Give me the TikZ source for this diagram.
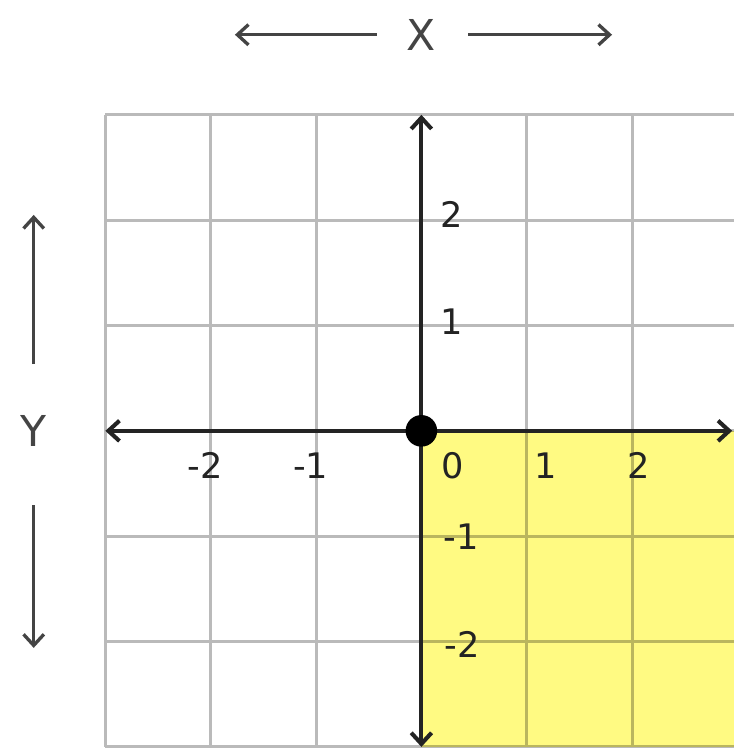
\documentclass[tikz,border=0pt]{standalone}
\usepackage{fontspec}
\setmainfont{DejaVu Sans}
\usepackage{xcolor}
\usetikzlibrary{arrows.meta}
\definecolor{quadyellow}{RGB}{255,250,130}
\definecolor{axisdark}{RGB}{35,35,35}
\tikzset{
    num/.style={font=\fontsize{9.5}{11}\selectfont, text=axisdark, inner sep=0pt},
    axislabel/.style={font=\fontsize{11.5}{13}\selectfont, text=axisdark!85, inner sep=0pt},
    tip/.style={Straight Barb[length=3pt,width=5.5pt]},
    dirarrow/.style={-{Straight Barb[length=3pt,width=5.5pt]}, line width=0.9pt, draw=axisdark!85}
}
\begin{document}
\begin{tikzpicture}
    \useasboundingbox (-4,-3.02) rectangle (2.97,4.09);
    % -------------------------
    % Shaded quadrant
    % -------------------------
    \fill[quadyellow] (0,0) rectangle (2.97,-3);

    % -------------------------
    % Grid
    % -------------------------
    \draw[black, draw opacity=0.27, line width=0.8pt] (-3,-3) grid (2.97,3);

    % -------------------------
    % Axes
    % -------------------------
    \coordinate (xl) at (-3,0);
    \coordinate (xr) at (2.95,0);
    \coordinate (yt) at (0,3);
    \coordinate (yb) at (0,-3);
    \draw[axisdark, line width=1.1pt, {Straight Barb[length=3pt,width=5.5pt]}-{Straight Barb[length=3pt,width=5.5pt]}] (xl) -- (xr);
    \draw[axisdark, line width=1.1pt, {Straight Barb[length=3pt,width=5.5pt]}-{Straight Barb[length=3pt,width=5.5pt]}] (yb) -- (yt);
    \fill (0,0) circle (0.15);

    % Numbers on the horizontal axis
    \node[num] (xm2) at (-2.05,-0.33) {-2};
    \node[num] (xm1) at (-1.05,-0.33) {-1};
    \node[num] (x0) at (0.3,-0.33) {0};
    \node[num] (x1) at (1.18,-0.33) {1};
    \node[num] (x2) at (2.06,-0.33) {2};

    % Numbers on the vertical axis
    \node[num] (y2) at (0.29,2.05) {2};
    \node[num] (y1) at (0.29,1.04) {1};
    \node[num] (ym1) at (0.38,-1.0) {-1};
    \node[num] (ym2) at (0.39,-2.03) {-2};

    % -------------------------
    % Direction labels
    % -------------------------
    \node[axislabel] (xlab) at (0,3.76) {X};
    \coordinate (xlend) at (-1.77,3.76);
    \coordinate (xrend) at (1.81,3.76);
    \draw[dirarrow] (xlab.west) ++(-0.28,0) -- (xlend);
    \draw[dirarrow] (xlab.east) ++(0.3,0) -- (xrend);

    \node[axislabel] (ylab) at (-3.68,0) {Y};
    \coordinate (ytend) at (-3.68,2.05);
    \coordinate (ybend) at (-3.68,-2.06);
    \draw[dirarrow] (ylab.north) ++(0,0.48) -- (ytend);
    \draw[dirarrow] (ylab.south) ++(0,-0.55) -- (ybend);
\end{tikzpicture}
\end{document}
